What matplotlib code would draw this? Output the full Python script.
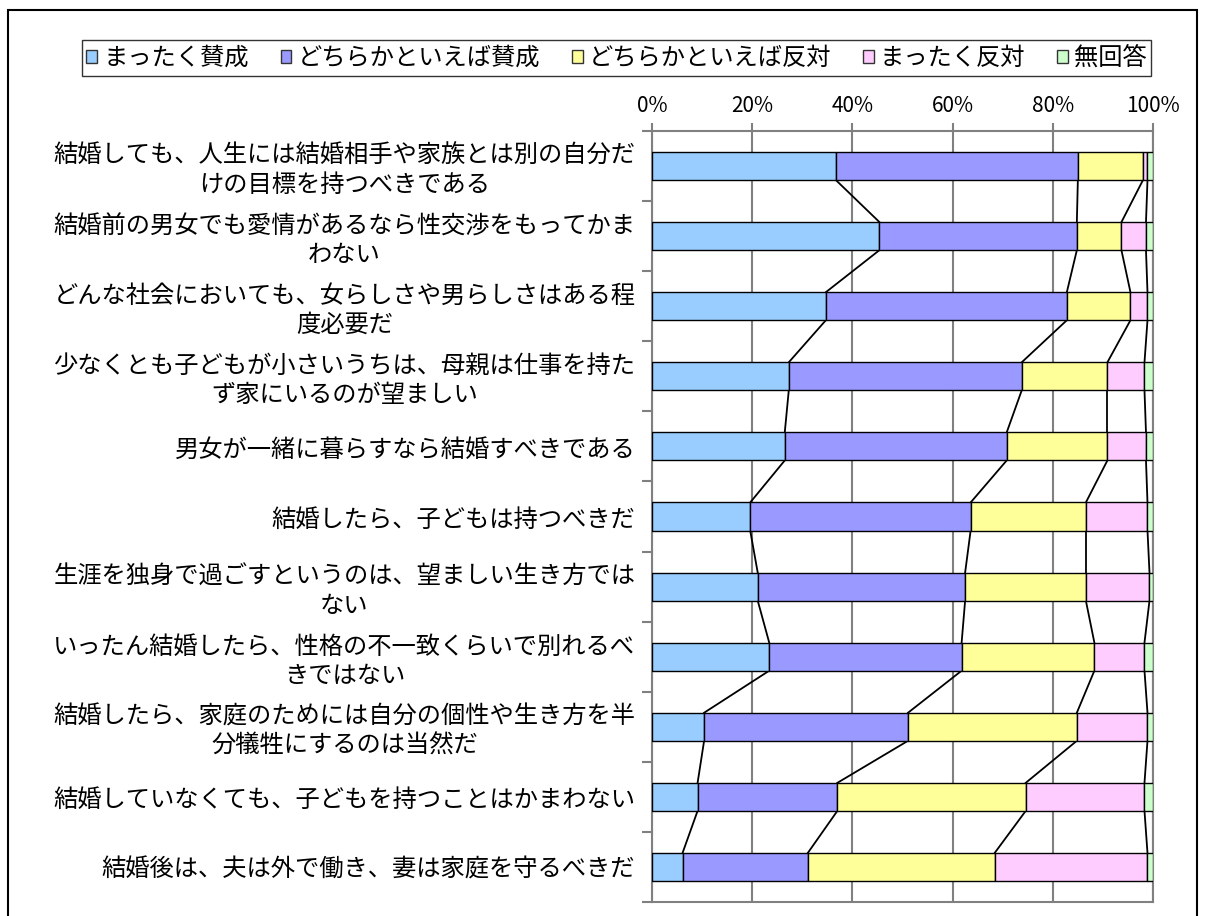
import matplotlib
matplotlib.use('Agg')
from matplotlib import pyplot as plt
from matplotlib.patches import Patch, Rectangle
import numpy as np

plt.rcParams['font.family'] = ['Noto Sans CJK JP', 'DejaVu Sans']

# survey items (top to bottom)
items = [
    '結婚しても、人生には結婚相手や家族とは別の自分だ\nけの目標を持つべきである',
    '結婚前の男女でも愛情があるなら性交渉をもってかま\nわない',
    'どんな社会においても、女らしさや男らしさはある程\n度必要だ',
    '少なくとも子どもが小さいうちは、母親は仕事を持た\nず家にいるのが望ましい',
    '男女が一緒に暮らすなら結婚すべきである',
    '結婚したら、子どもは持つべきだ',
    '生涯を独身で過ごすというのは、望ましい生き方では\nない',
    'いったん結婚したら、性格の不一致くらいで別れるべ\nきではない',
    '結婚したら、家庭のためには自分の個性や生き方を半\n分犠牲にするのは当然だ',
    '結婚していなくても、子どもを持つことはかまわない',
    '結婚後は、夫は外で働き、妻は家庭を守るべきだ',
]

answers = ['まったく賛成', 'どちらかといえば賛成', 'どちらかといえば反対', 'まったく反対', '無回答']

# percentages
totally_agree   = [36.7, 45.4, 34.7, 27.3, 26.5, 19.6, 21.1, 23.4, 10.4,  9.1,  6.1]
rather_agree    = [48.3, 39.4, 48.1, 46.5, 44.3, 44.0, 41.4, 38.4, 40.7, 27.9, 25.0]
rather_disagree = [13.0,  8.9, 12.7, 17.1, 20.1, 23.0, 24.1, 26.5, 33.7, 37.6, 37.3]
totally_disagree= [ 0.9,  4.9,  3.4,  7.4,  7.7, 12.3, 12.7, 10.0, 14.1, 23.7, 30.5]
no_answer       = [ 1.1,  1.4,  1.1,  1.7,  1.4,  1.1,  0.7,  1.7,  1.1,  1.7,  1.1]

xticks = [0, 20, 40, 60, 80, 100]
xticklabels = ['0%', '20%', '40%', '60%', '80%', '100%']

colors = ['#99CCFF', '#9999FF', '#FFFF99', '#FFCCFF', '#CCFFCC']

series = np.array([totally_agree, rather_agree, rather_disagree, totally_disagree, no_answer])
# normalise each row to 100%
series = series / series.sum(axis=0) * 100

fig = plt.figure(figsize=(12.05, 9.16), dpi=100)
ax = fig.add_axes([652/1205, 1 - 902/916, 501/1205, 771/916])

y = np.arange(len(items))
h = 0.4
left = np.zeros(len(items))
for vals, c in zip(series, colors):
    ax.barh(y, vals, left=left, height=h, color=c, edgecolor='black', linewidth=1.0, zorder=3)
    left = left + vals

# series lines between neighbouring bars
cum = np.cumsum(series, axis=0)
for k in range(4):
    for i in range(len(items) - 1):
        ax.plot([cum[k][i], cum[k][i + 1]], [y[i] + h/2, y[i + 1] - h/2],
                color='black', linewidth=1.3, zorder=2)

ax.set_xlim(0, 100)
ax.set_ylim(len(items) - 0.5, -0.5)

ax.xaxis.tick_top()
ax.set_xticks(xticks)
ax.set_xticklabels(xticklabels, fontsize=15)
ax.tick_params(axis='x', direction='out', length=6, width=1.5, color='#808080', pad=4)
ax.grid(axis='x', color='#808080', linewidth=1.5, zorder=0)

ax.set_yticks(y)
ax.set_yticklabels(items, fontsize=17.5, ha='right', multialignment='center', linespacing=1.15)
ax.tick_params(axis='y', which='major', length=0, pad=12)
ax.set_yticks(np.arange(len(items) + 1) - 0.5, minor=True)
ax.tick_params(axis='y', which='minor', direction='out', length=7, width=1.5, color='#808080')

for s in ax.spines.values():
    s.set_color('#808080')
    s.set_linewidth(1.5)

# legend
handles = [Patch(facecolor=c, edgecolor='#333333', linewidth=1.0) for c in colors]
fig.legend(handles, answers, loc='center', bbox_to_anchor=(616.5/1205, 1 - 58/916),
           ncol=5, fontsize=17.5, frameon=True, fancybox=False, edgecolor='black',
           handlelength=0.45, handleheight=0.45, handletextpad=0.25, columnspacing=1.3,
           borderpad=0.2, borderaxespad=0)

# outer chart border
fig.patches.append(Rectangle((8/1205, -0.02), 1189/1205, 1.02 - 10/916,
                             transform=fig.transFigure, fill=False,
                             edgecolor='black', linewidth=1.5))

plt.savefig('out.png', dpi=100)
